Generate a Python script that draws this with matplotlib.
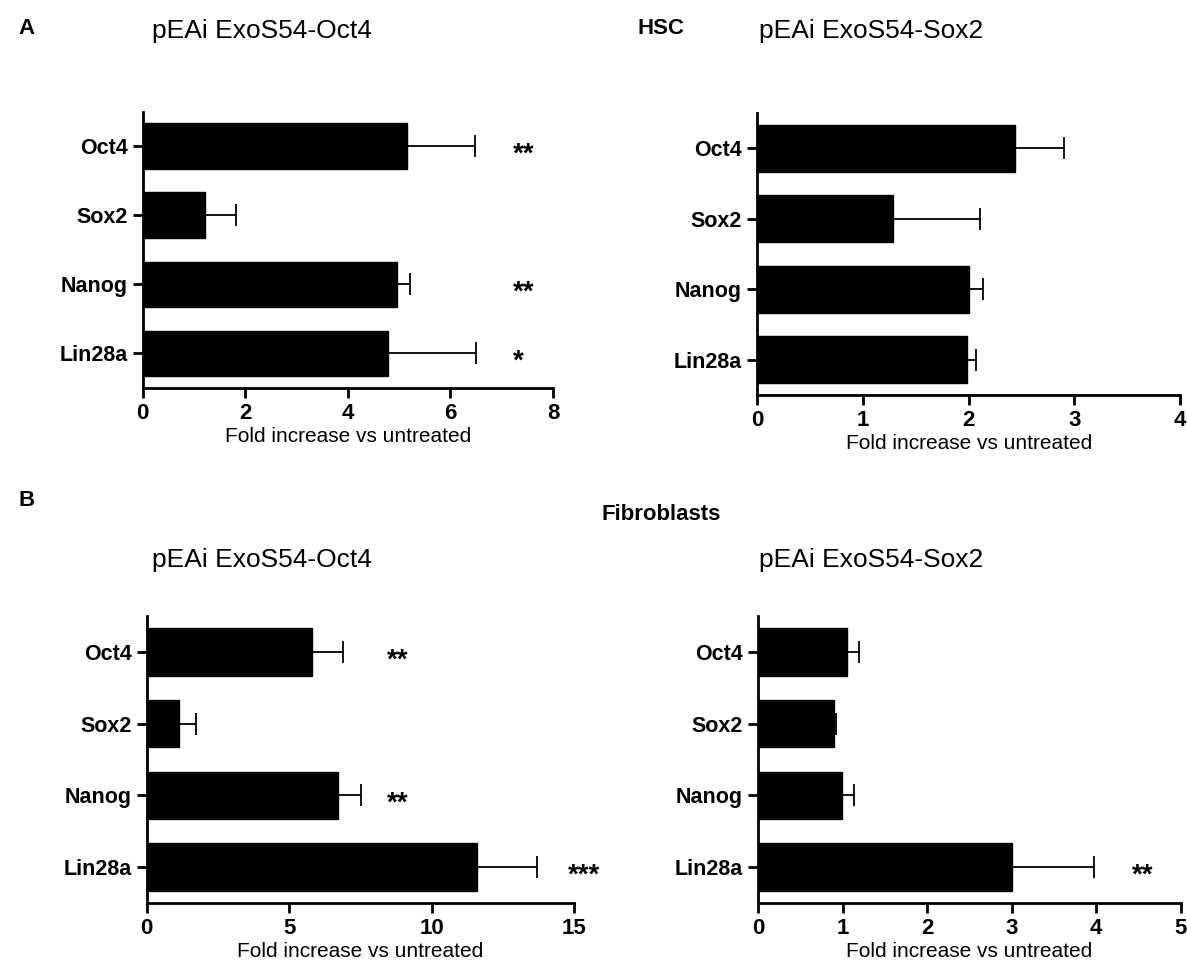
import matplotlib
matplotlib.use("Agg")
import matplotlib.pyplot as plt
from matplotlib import font_manager

names = {f.name for f in font_manager.fontManager.ttflist}
FONT = "Liberation Sans Narrow" if "Liberation Sans Narrow" in names else "Liberation Sans"
plt.rcParams['font.family'] = [FONT, 'Liberation Sans', 'DejaVu Sans']

genes = ["Oct4", "Sox2", "Nanog", "Lin28a"]

hsc_oct4_mean = [5.16, 1.21, 4.95, 4.78]
hsc_oct4_err = [1.32, 0.60, 0.27, 1.72]
hsc_oct4_sig = ["**", "", "**", "*"]

hsc_sox2_mean = [2.44, 1.28, 2.00, 1.98]
hsc_sox2_err = [0.46, 0.83, 0.14, 0.09]
hsc_sox2_sig = ["", "", "", ""]

fib_oct4_mean = [5.81, 1.13, 6.70, 11.61]
fib_oct4_err = [1.08, 0.59, 0.81, 2.10]
fib_oct4_sig = ["**", "", "**", "***"]

fib_sox2_mean = [1.05, 0.90, 0.99, 3.01]
fib_sox2_err = [0.15, 0.02, 0.14, 0.96]
fib_sox2_sig = ["", "", "", "**"]

W, H = 1187, 966
fig = plt.figure(figsize=(W / 100, H / 100), dpi=100)

def rect(x0, x1, ytop, ybot):
    return [x0 / W, 1 - ybot / H, (x1 - x0) / W, (ybot - ytop) / H]

panels = [
    (rect(142.7, 553, 111.5, 388), hsc_oct4_mean, hsc_oct4_err, hsc_oct4_sig, 8, [0, 2, 4, 6, 8], [7.22, 7.22, 7.22, 7.22]),
    (rect(757.3, 1180, 113, 395), hsc_sox2_mean, hsc_sox2_err, hsc_sox2_sig, 4, [0, 1, 2, 3, 4], [0, 0, 0, 0]),
    (rect(146.7, 574, 616, 903), fib_oct4_mean, fib_oct4_err, fib_oct4_sig, 15, [0, 5, 10, 15], [8.43, 8.43, 8.43, 14.8]),
    (rect(758, 1180.7, 616, 903), fib_sox2_mean, fib_sox2_err, fib_sox2_sig, 5, [0, 1, 2, 3, 4, 5], [4.42, 4.42, 4.42, 4.42]),
]

for r, mean, err, sig, xmax, ticks, sx in panels:
    ax = fig.add_axes(r)
    y = list(range(len(genes)))
    ax.barh(y, mean, height=0.66, color="black", edgecolor="black", zorder=2)
    ax.errorbar(mean, y, xerr=[[0] * len(err), err], fmt="none", ecolor="black",
                elinewidth=1.3, capsize=8, capthick=1.3, zorder=1)
    for yi, s, x in zip(y, sig, sx):
        if s:
            ax.text(x, yi + 0.12, s, ha="left", va="center", fontsize=20,
                    fontweight="bold", clip_on=False)
    ax.set_xlim(0, xmax)
    ax.set_ylim(len(genes) - 0.5, -0.5)
    ax.set_yticks(y)
    ax.set_yticklabels(genes, fontsize=15.5, fontweight="bold")
    ax.set_xticks(ticks)
    ax.set_xticklabels([str(t) for t in ticks], fontsize=16, fontweight="bold")
    ax.set_xlabel("Fold increase vs untreated", fontsize=15, labelpad=2)
    for s in ["top", "right"]:
        ax.spines[s].set_visible(False)
    for s in ["left", "bottom"]:
        ax.spines[s].set_linewidth(2)
    ax.tick_params(axis="y", width=2, length=7, pad=4)
    ax.tick_params(axis="x", width=2, length=7, pad=4)

fig.text(18 / W, 1 - 28 / H, "A", fontsize=16, fontweight="bold", ha="left", va="center")
fig.text(18 / W, 1 - 500 / H, "B", fontsize=16, fontweight="bold", ha="left", va="center")
fig.text(661 / W, 1 - 28 / H, "HSC", fontsize=16, fontweight="bold", ha="center", va="center")
fig.text(661 / W, 1 - 515 / H, "Fibroblasts", fontsize=16, fontweight="bold", ha="center", va="center")
fig.text(152 / W, 1 - 31 / H, "pEAi ExoS54-Oct4", fontsize=19, ha="left", va="center")
fig.text(759 / W, 1 - 31 / H, "pEAi ExoS54-Sox2", fontsize=19, ha="left", va="center")
fig.text(152 / W, 1 - 560 / H, "pEAi ExoS54-Oct4", fontsize=19, ha="left", va="center")
fig.text(759 / W, 1 - 560 / H, "pEAi ExoS54-Sox2", fontsize=19, ha="left", va="center")

fig.savefig("out.png", dpi=100, facecolor="white")
